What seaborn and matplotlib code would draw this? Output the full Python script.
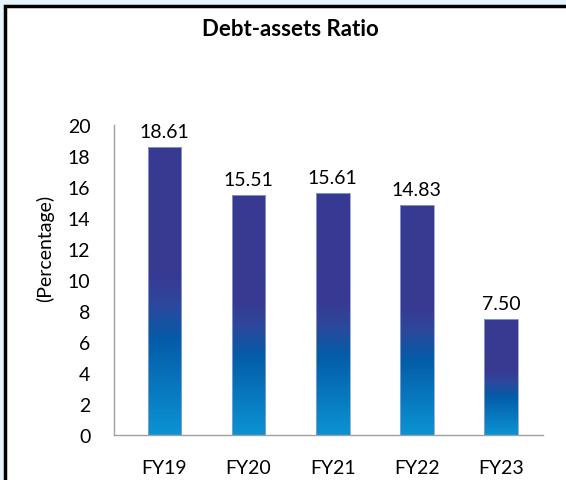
import numpy as np
import pandas as pd
import matplotlib
matplotlib.use('Agg')
import matplotlib.pyplot as plt
from matplotlib.colors import LinearSegmentedColormap
from matplotlib.patches import Rectangle
import seaborn as sns

years = ['FY19', 'FY20', 'FY21', 'FY22', 'FY23']
ratio = [18.61, 15.51, 15.61, 14.83, 7.50]
labels = ['18.61', '15.51', '15.61', '14.83', '7.50']

sns.set_theme(style='white')
plt.rcParams['font.family'] = ['Lato', 'DejaVu Sans']
plt.rcParams['text.color'] = 'black'

df = pd.DataFrame({'year': years, 'ratio': ratio})

fig = plt.figure(figsize=(5.66, 4.81), dpi=100)
fig.patch.set_facecolor('#e6f4fb')
# white card with black border on top/left (rest is cropped off)
fig.patches.append(Rectangle((5/566, -0.1), 1.1, 1 - 7/481 + 0.1, transform=fig.transFigure,
                             facecolor='white', edgecolor='black', linewidth=2.5, zorder=-5))

ax = fig.add_axes([114/566, 1 - 436/481, (543 - 114)/566, (436 - 126)/481])
ax.set_facecolor('none')
sns.barplot(data=df, x='year', y='ratio', color='#383a92', width=0.4, ax=ax)

# gradient fill, light blue at the base to indigo at the top
grad = LinearSegmentedColormap.from_list('bar', [
    (0.0, '#0b93d3'), (0.33, '#045ca8'), (0.45, '#2c489c'), (0.55, '#383a92'), (1.0, '#383a92')])
g = np.linspace(0, 1, 256).reshape(-1, 1)
for p in ax.patches:
    x0, w, h = p.get_x(), p.get_width(), p.get_height()
    p.set_facecolor('none')
    p.set_edgecolor('#8fa4cc')
    p.set_linewidth(0.6)
    im = ax.imshow(g, cmap=grad, origin='lower', aspect='auto',
                   extent=[x0 - 0.05, x0 + w + 0.05, 0, h], zorder=1, interpolation='bilinear')
    im.set_clip_path(p)
    p.set_zorder(2)

for i, v in enumerate(ratio):
    ax.text(i, v + 0.45, labels[i], ha='center', va='bottom', fontsize=14, color='black')

ax.set_xlim(-0.6, 4.5)
ax.set_ylim(0, 20)
ax.set_yticks(range(0, 21, 2))
ax.tick_params(axis='y', labelsize=14, length=0, pad=17, colors='black')
ax.tick_params(axis='x', labelsize=14, length=0, pad=17, colors='black')
ax.set_xlabel('')
ax.set_ylabel('')
for s in ['top', 'right']:
    ax.spines[s].set_visible(False)
for s in ['left', 'bottom']:
    ax.spines[s].set_color('#a0a0a0')
    ax.spines[s].set_linewidth(1)

fig.text(45/566, 1 - 248/481, '(Percentage)', rotation=90, ha='center', va='center',
         fontsize=14, color='black')
fig.text(290/566, 1 - 30/481, 'Debt-assets Ratio', ha='center', va='center', fontsize=16,
         fontweight='bold', color='black')

fig.savefig('out.png', dpi=100, facecolor=fig.get_facecolor())
